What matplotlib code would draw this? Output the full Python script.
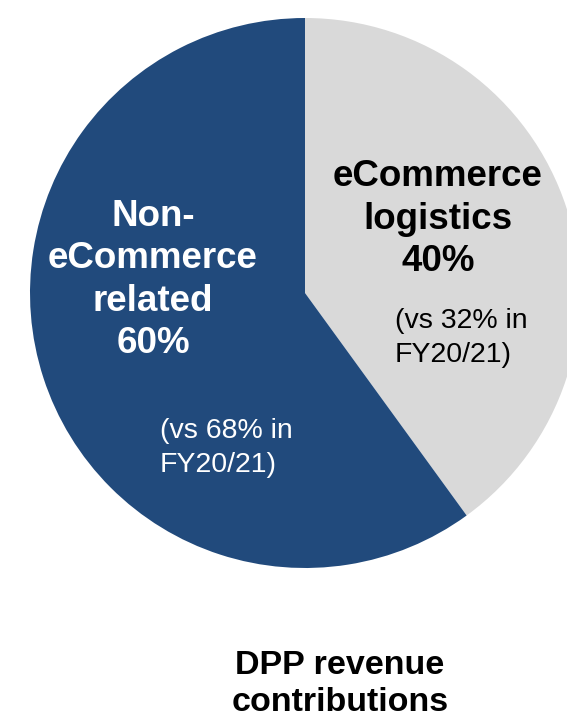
import matplotlib
matplotlib.use("Agg")
import matplotlib.pyplot as plt

plt.rcParams['font.family'] = ['Liberation Sans', 'DejaVu Sans']

# data
segments = ['eCommerce\nlogistics', 'Non-\neCommerce\nrelated']
shares = [40, 60]
prev_shares = [32, 68]
prev_year = 'FY20/21'
title = 'DPP revenue\ncontributions'

seg_colors = ['#d9d9d9', '#214a7c']
text_colors = ['black', 'white']

W, H = 567, 725
fig = plt.figure(figsize=(W / 100, H / 100), dpi=100)
ax = fig.add_axes([0, 0, 1, 1])

cx, cy, r = 305, H - 293, 275
ax.pie(shares, colors=seg_colors, startangle=90, counterclock=False,
       center=(cx, cy), radius=r, wedgeprops=dict(linewidth=0))

# main labels (name + share)
main_pos = [(438, 219), (153, 280)]
sub_pos = [(395, 338), (160, 448)]
for i in range(len(shares)):
    x, y = main_pos[i]
    ax.text(x, H - y, '%s\n%d%%' % (segments[i], shares[i]), ha='center', va='center',
            fontsize=26.5, fontweight='bold', color=text_colors[i], linespacing=1.28)
    x, y = sub_pos[i]
    ax.text(x, H - y, '(vs %d%% in\n%s)' % (prev_shares[i], prev_year), ha='left', va='center',
            fontsize=20.5, color=text_colors[i], linespacing=1.42)

ax.text(340, H - 684, title, ha='center', va='center', fontsize=24.5,
        fontweight='bold', color='black', linespacing=1.22)

ax.set_xlim(0, W)
ax.set_ylim(0, H)
ax.set_aspect('auto')
ax.axis('off')

fig.savefig('out.png', dpi=100)
